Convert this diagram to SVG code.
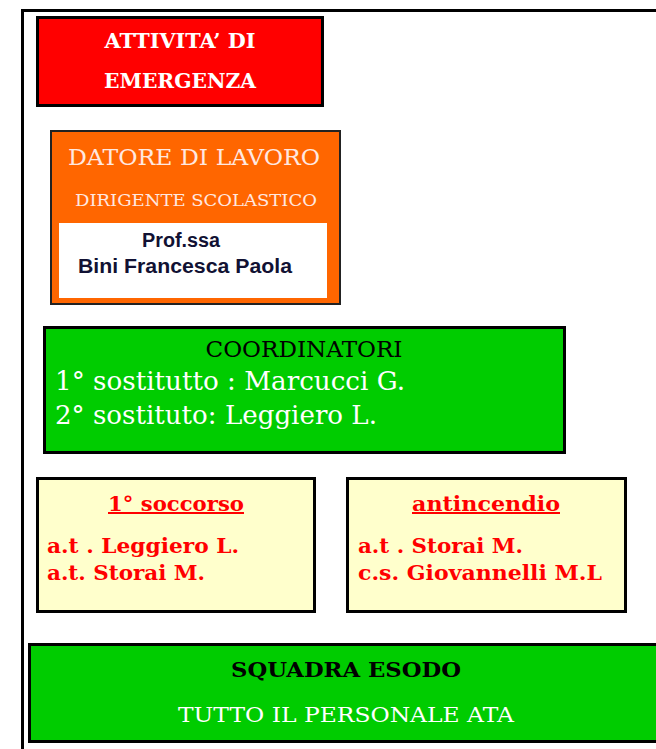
<svg xmlns="http://www.w3.org/2000/svg" width="656" height="749" viewBox="0 0 656 749">
<style>
.sf{font-family:"DejaVu Serif","Liberation Serif",serif}
.ss{font-family:"Liberation Sans",Arial,sans-serif}
.b{font-weight:bold}
.c{text-anchor:middle}
</style>
<rect x="0" y="0" width="656" height="749" fill="#fff"/>
<rect x="22.5" y="10.5" width="700" height="800" fill="none" stroke="#000" stroke-width="3"/>
<g id="attivita">
<rect x="37.5" y="17.5" width="285" height="88" fill="#ff0000" stroke="#000" stroke-width="3"/>
<text class="sf b c" x="180" y="48" font-size="20" fill="#fff" textLength="151" lengthAdjust="spacingAndGlyphs">ATTIVITA’ DI</text>
<text class="sf b c" x="180" y="88" font-size="20" fill="#fff" textLength="152" lengthAdjust="spacingAndGlyphs">EMERGENZA</text>
</g>
<g id="datore">
<rect x="51" y="131" width="289" height="173" fill="#ff6600" stroke="#222" stroke-width="2"/>
<text class="sf c" x="194" y="165" font-size="23" fill="#ffe8e0" textLength="252" lengthAdjust="spacingAndGlyphs">DATORE DI LAVORO</text>
<text class="sf c" x="196" y="206" font-size="17" fill="#ffe8e0" textLength="242" lengthAdjust="spacingAndGlyphs">DIRIGENTE SCOLASTICO</text>
<rect x="59" y="223" width="268" height="75" fill="#fff"/>
<text class="ss b" x="142" y="247" font-size="19.5" fill="#111133" textLength="78" lengthAdjust="spacingAndGlyphs">Prof.ssa</text>
<text class="ss b" x="78" y="273" font-size="19.5" fill="#111133" textLength="214" lengthAdjust="spacingAndGlyphs">Bini Francesca Paola</text>
</g>
<g id="coordinatori">
<rect x="44.5" y="327.5" width="520" height="125" fill="#00cc00" stroke="#000" stroke-width="3"/>
<text class="sf c" x="304" y="357" font-size="22" fill="#000" textLength="197" lengthAdjust="spacingAndGlyphs">COORDINATORI</text>
<text class="sf" x="55" y="390" font-size="26" fill="#fff" textLength="350" lengthAdjust="spacingAndGlyphs">1° sostitutto : Marcucci G.</text>
<text class="sf" x="55" y="424" font-size="26" fill="#fff" textLength="322" lengthAdjust="spacingAndGlyphs">2° sostituto: Leggiero L.</text>
</g>
<g id="soccorso">
<rect x="37.5" y="478.5" width="277" height="133" fill="#ffffcc" stroke="#000" stroke-width="3"/>
<text class="sf b c" x="176" y="511" font-size="20" fill="#ff0000" text-decoration="underline" textLength="136" lengthAdjust="spacingAndGlyphs">1° soccorso</text>
<text class="sf b" x="47" y="553" font-size="20" fill="#ff0000" textLength="192" lengthAdjust="spacingAndGlyphs">a.t . Leggiero L.</text>
<text class="sf b" x="47" y="580" font-size="20" fill="#ff0000" textLength="158" lengthAdjust="spacingAndGlyphs">a.t. Storai M.</text>
</g>
<g id="antincendio">
<rect x="347.5" y="478.5" width="278" height="133" fill="#ffffcc" stroke="#000" stroke-width="3"/>
<text class="sf b c" x="486" y="511" font-size="20" fill="#ff0000" text-decoration="underline" textLength="148" lengthAdjust="spacingAndGlyphs">antincendio</text>
<text class="sf b" x="358" y="553" font-size="20" fill="#ff0000" textLength="165" lengthAdjust="spacingAndGlyphs">a.t . Storai M.</text>
<text class="sf b" x="358" y="580" font-size="20" fill="#ff0000" textLength="244" lengthAdjust="spacingAndGlyphs">c.s. Giovannelli M.L</text>
</g>
<g id="esodo">
<rect x="29.5" y="644.5" width="700" height="97" fill="#00cc00" stroke="#000" stroke-width="3"/>
<text class="sf b c" x="346" y="677" font-size="20" fill="#000" textLength="230" lengthAdjust="spacingAndGlyphs">SQUADRA ESODO</text>
<text class="sf c" x="346" y="722" font-size="21" fill="#fff" textLength="336" lengthAdjust="spacingAndGlyphs">TUTTO IL PERSONALE ATA</text>
</g>
<g id="connectors"/>
</svg>
